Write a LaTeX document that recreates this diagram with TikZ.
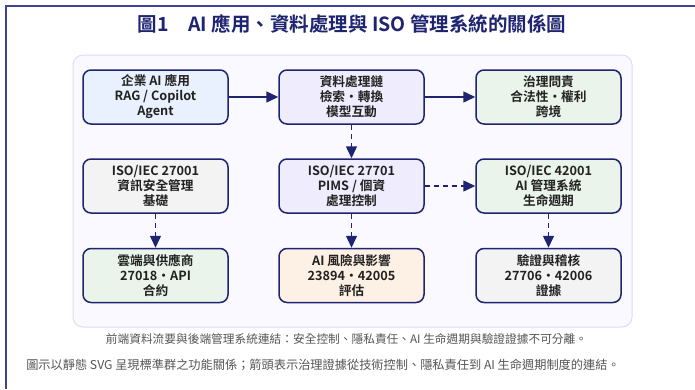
\documentclass[tikz,border=0pt]{standalone}
\usepackage{fontspec}
\setmainfont{Noto Sans CJK TC}[BoldFont={Noto Sans CJK TC Bold}]
\usetikzlibrary{arrows.meta}
\definecolor{navy}{HTML}{1F2470}
\definecolor{framec}{HTML}{3F4296}
\definecolor{panelfill}{HTML}{F9F9FF}
\definecolor{panelline}{HTML}{DCDDF2}
\definecolor{cblue}{HTML}{EAF1FE}
\definecolor{cpurple}{HTML}{EFECFD}
\definecolor{cgreen}{HTML}{EAF4EA}
\definecolor{cgray}{HTML}{F3F3F3}
\definecolor{corange}{HTML}{FDF0E4}
\definecolor{txt}{HTML}{222222}
\definecolor{captxt}{HTML}{555555}
\tikzset{
  box/.style={draw=navy, line width=1.5pt, rounded corners=8pt, minimum width=145pt, minimum height=54pt, inner sep=2pt, align=center, text=txt, font=\bfseries\fontsize{12.7}{15}\selectfont},
  conn/.style={draw=navy, line width=1.5pt, -{Triangle[length=12pt,width=11pt]}},
  dconn/.style={conn, dash pattern=on 5pt off 4pt},
  captext/.style={text=captxt, inner sep=0pt}
}
\begin{document}
\begin{tikzpicture}[x=1pt,y=-1pt]
\useasboundingbox (0,0) rectangle (695,389);
\fill[white] (0,0) rectangle (695,389);
\draw[framec, line width=1.4pt] (6,389) -- (6,6) -- (695,6);
\node[text=navy, font=\bfseries\fontsize{19.5}{21}\selectfont, inner sep=0pt] (title) at (352,24) {圖1\quad AI 應用、資料處理與 ISO 管理系統的關係圖};
\draw[panelline, fill=panelfill, line width=1pt, rounded corners=10pt] (73,55) rectangle (632,327);
\node[box, fill=cblue] (a1) at (155.5,97) {企業 AI 應用\\RAG / Copilot\\Agent};
\node[box, fill=cpurple] (a2) at (351.5,97) {資料處理鏈\\檢索・轉換\\模型互動};
\node[box, fill=cgreen] (a3) at (548.5,97) {治理問責\\合法性・權利\\跨境};
\node[box, fill=cgray] (b1) at (155.5,186) {ISO/IEC 27001\\資訊安全管理\\基礎};
\node[box, fill=cpurple] (b2) at (351.5,186) {ISO/IEC 27701\\PIMS / 個資\\處理控制};
\node[box, fill=cgreen] (b3) at (548.5,186) {ISO/IEC 42001\\AI 管理系統\\生命週期};
\node[box, fill=cgreen] (c1) at (155.5,275.5) {雲端與供應商\\27018・API\\合約};
\node[box, fill=corange] (c2) at (351.5,275.5) {AI 風險與影響\\23894・42005\\評估};
\node[box, fill=cgray] (c3) at (548.5,275.5) {驗證與稽核\\27706・42006\\證據};
\draw[conn] (a1) -- (a2);
\draw[conn] (a2) -- (a3);
\draw[dconn] (a2) -- (b2);
\draw[dconn] (b2) -- (b3);
\draw[dconn] (b1) -- (c1);
\draw[dconn] (b2) -- (c2);
\draw[dconn] (b3) -- (c3);
\node[captext, font=\fontsize{11.7}{14}\selectfont] (cap1) at (346.5,339) {前端資料流要與後端管理系統連結：安全控制、隱私責任、AI 生命週期與驗證證據不可分離。};
\node[captext, font=\fontsize{12.2}{14}\selectfont] (cap2) at (323,365) {圖示以靜態 SVG 呈現標準群之功能關係；箭頭表示治理證據從技術控制、隱私責任到 AI 生命週期制度的連結。};
\end{tikzpicture}
\end{document}
